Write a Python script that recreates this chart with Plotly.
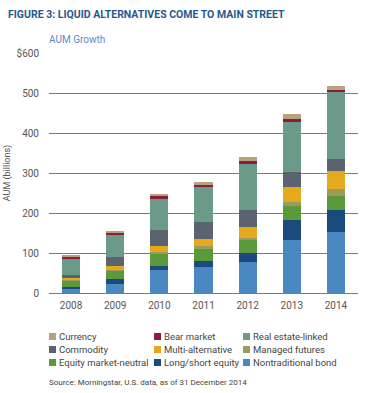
import plotly.graph_objects as go

years = ["2008", "2009", "2010", "2011", "2012", "2013", "2014"]

# segment values (billions), bottom to top of each stack
nontraditional_bond = [10, 23, 57, 65, 77, 132, 153]
long_short_equity = [5, 12, 11, 16, 23, 51, 55]
equity_market_neutral = [15, 20, 30, 29, 32, 34, 35]
managed_futures = [3, 3, 4, 7, 6, 10, 17]
multi_alternative = [5, 9, 16, 19, 26, 37, 46]
commodity = [8, 22, 40, 42, 44, 39, 29]
real_estate_linked = [41, 56, 77, 87, 114, 125, 168]
bear_market = [3, 5, 7, 5, 7, 7, 5]
currency = [3, 4, 5, 8, 11, 12, 10]

y_tickvals = [0, 100, 200, 300, 400, 500, 600]
y_ticktext = ["0", "100", "200", "300", "400", "500", "$600"]

series_names = ["Nontraditional bond", "Long/short equity", "Equity market-neutral", "Managed futures",
                "Multi-alternative", "Commodity", "Real estate-linked", "Bear market", "Currency"]
series_values = [nontraditional_bond, long_short_equity, equity_market_neutral, managed_futures,
                 multi_alternative, commodity, real_estate_linked, bear_market, currency]
series_colors = ["#4a88c2", "#1b4a7c", "#5b9a3b", "#9a9c5c", "#e6a91e", "#5b6371", "#6b9a88",
                 "#8c1c3c", "#b8a27c"]

# legend layout (reading order, 3 columns x 3 rows)
legend_order = ["Currency", "Bear market", "Real estate-linked",
                "Commodity", "Multi-alternative", "Managed futures",
                "Equity market-neutral", "Long/short equity", "Nontraditional bond"]

FONT = "Roboto, sans-serif"

fig = go.Figure()
for name, vals, color in zip(series_names, series_values, series_colors):
    fig.add_trace(go.Bar(x=years, y=vals, name=name, marker=dict(color=color, line=dict(width=0)),
                         showlegend=False))

W, H = 370, 393
ml, mr, mt, mb = 49, 12, 53, 100
pw = W - ml - mr
ph = H - mt - mb


def px_x(p):
    return (p - ml) / pw


def px_y(p):
    return (H - mb - p) / ph


col_x = [49, 154, 243]
row_y = [336.5, 349.5, 362.5]
sw = 7
shapes = []
annotations = []
color_of = dict(zip(series_names, series_colors))
for i, name in enumerate(legend_order):
    cx = col_x[i % 3]
    cy = row_y[i // 3]
    shapes.append(dict(type="rect", xref="paper", yref="paper",
                       x0=px_x(cx), x1=px_x(cx + sw), y0=px_y(cy + sw / 2), y1=px_y(cy - sw / 2),
                       fillcolor=color_of[name], line=dict(width=0)))
    annotations.append(dict(text=name, xref="paper", yref="paper", x=px_x(cx + sw + 1), y=px_y(cy),
                            xanchor="left", yanchor="middle", showarrow=False,
                            font=dict(family=FONT, size=9.5, color="#444444")))

annotations += [
    dict(text="AUM Growth", xref="paper", yref="paper", x=px_x(47), y=px_y(40),
         xanchor="left", yanchor="middle", showarrow=False,
         font=dict(family=FONT, size=10, color="#5b8cc4")),
    dict(text="Source: Morningstar, U.S. data, as of 31 December 2014", xref="paper", yref="paper",
         x=px_x(47), y=px_y(382), xanchor="left", yanchor="middle", showarrow=False,
         font=dict(family=FONT, size=8, color="#444444")),
]

fig.update_layout(
    width=W, height=H,
    margin=dict(l=ml, r=mr, t=mt, b=mb),
    paper_bgcolor="white", plot_bgcolor="white",
    barmode="stack", bargap=0.59,
    font=dict(family=FONT, color="#555555"),
    title=dict(text="<b>FIGURE 3: LIQUID ALTERNATIVES COME TO MAIN STREET</b>",
               font=dict(family=FONT, size=10.5, color="#1f5a8c"),
               xref="container", yref="container", x=8 / W, xanchor="left",
               y=1 - 14 / H, yanchor="middle"),
    xaxis=dict(showgrid=False, showline=False, ticks="", tickfont=dict(family=FONT, size=10, color="#555555"),
               ticklabelstandoff=5, automargin=False),
    yaxis=dict(range=[0, 600], tickvals=y_tickvals, ticktext=y_ticktext, showgrid=True,
               gridcolor="#7a7a7a", gridwidth=1, zeroline=True, zerolinecolor="#7a7a7a",
               zerolinewidth=1, showline=False, ticks="", ticklabelstandoff=9, automargin=False,
               tickfont=dict(family=FONT, size=10, color="#555555"),
               title=dict(text="AUM (billions)", font=dict(family=FONT, size=9, color="#555555"),
                          standoff=4)),
    showlegend=False,
    shapes=shapes,
    annotations=annotations,
)

fig.write_html("out.html", config={"displayModeBar": False},
               post_script="document.body.style.margin='0px';")
